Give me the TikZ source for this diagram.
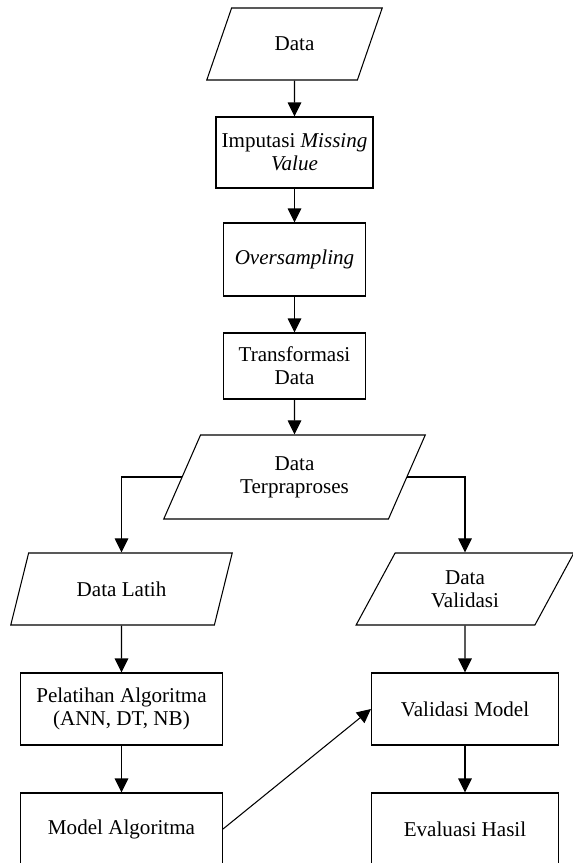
\documentclass[tikz,border=0pt]{standalone}
\usepackage{fontspec}
\setmainfont{Liberation Serif}
\usetikzlibrary{arrows.meta,shapes.geometric,positioning}

\begin{document}
\begin{tikzpicture}[
    font=\fontsize{12}{13.2}\selectfont,
    io/.style={trapezium,trapezium left angle=64,trapezium right angle=116,
               trapezium stretches=true,draw,line width=0.6pt,align=center,
               inner sep=1pt},
    proc/.style={rectangle,draw,line width=0.6pt,align=center,inner sep=1pt},
    arr/.style={-{Triangle[length=0.28cm,width=0.27cm]},line width=0.6pt}]

    \useasboundingbox (0,0) rectangle (11.46,-17.26);

    % main column
    \node[io,minimum width=3.52cm,minimum height=1.44cm] (data) at (5.89,-0.88) {Data};
    \node[proc,minimum width=3.14cm,minimum height=1.42cm] (imput) at (5.89,-3.05)
      {Imputasi \textit{Missing}\\\textit{Value}};
    \node[proc,minimum width=2.84cm,minimum height=1.46cm] (over) at (5.89,-5.19)
      {\textit{Oversampling}};
    \node[proc,minimum width=2.84cm,minimum height=1.32cm] (trans) at (5.89,-7.32)
      {Transformasi\\Data};
    \node[io,minimum width=5.26cm,minimum height=1.68cm] (prep) at (5.89,-9.54)
      {Data\\Terpraproses};

    % training side
    \node[io,minimum width=4.44cm,minimum height=1.44cm] (latih) at (2.43,-11.78) {Data Latih};
    \node[proc,minimum width=4.04cm,minimum height=1.44cm] (pelat) at (2.43,-14.18)
      {Pelatihan Algoritma\\(ANN, DT, NB)};
    \node[proc,minimum width=4.04cm,minimum height=1.44cm] (model) at (2.43,-16.58)
      {Model Algoritma};

    % validation side
    \node[io,minimum width=4.38cm,minimum height=1.44cm] (valid) at (9.30,-11.78)
      {Data\\Validasi};
    \node[proc,minimum width=3.74cm,minimum height=1.44cm] (valmod) at (9.30,-14.18)
      {Validasi Model};
    \node[proc,minimum width=3.74cm,minimum height=1.44cm] (eval) at (9.30,-16.58)
      {Evaluasi Hasil};

    \draw[arr] (data)--(imput);
    \draw[arr] (imput)--(over);
    \draw[arr] (over)--(trans);
    \draw[arr] (trans)--(prep);
    \draw[arr] (prep.west) -| (latih);
    \draw[arr] (prep.east) -| (valid);
    \draw[arr] (latih)--(pelat);
    \draw[arr] (pelat)--(model);
    \draw[arr] (valid)--(valmod);
    \draw[arr] (valmod)--(eval);
    \draw[arr] (model.east)--(valmod.west);
\end{tikzpicture}
\end{document}
